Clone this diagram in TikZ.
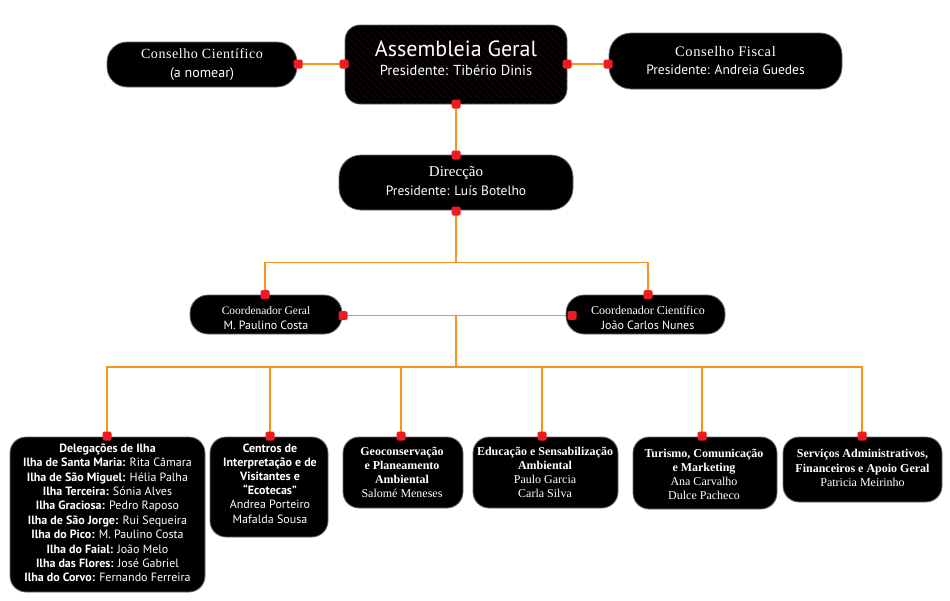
\documentclass[tikz,border=0pt]{standalone}
\usepackage{fontspec}
\setmainfont{Liberation Serif}
\newfontfamily\sansf{PT Sans}
\newfontfamily\serifls[LetterSpace=4]{Liberation Serif}
\usetikzlibrary{backgrounds}
\definecolor{orng}{HTML}{F7941D}
\definecolor{redsq}{HTML}{ED1C24}
\definecolor{bord}{HTML}{6D6E70}
\definecolor{hatchc}{HTML}{240808}
\tikzset{
  box/.style={fill=black,draw=bord,line width=0.8pt,inner sep=0pt,rounded corners=#1},
  box/.default=15pt,
  sq/.style={fill=redsq,rounded corners=1.5pt,minimum size=9pt,inner sep=0pt},
  conn/.style={draw=orng,line width=1.3pt},
  txt/.style={text=white,align=center,inner sep=0pt},
}
\begin{document}
\begin{tikzpicture}[x=1pt,y=-1pt]
\useasboundingbox (0,0) rectangle (950,600);
% ---------- boxes ----------
\node[box=20pt,minimum width=190pt,minimum height=45pt] (cc) at (202,64.5) {};
\node[box=15pt,minimum width=222pt,minimum height=79pt] (ag) at (456,64.5) {};
\begin{scope}
  \clip[rounded corners=15pt] (345,25) rectangle (567,104);
  \foreach \i in {-100,-93,...,240} \draw[hatchc,line width=0.45pt] (345+\i,25) -- ++(80,80);
\end{scope}
\node[box=22pt,minimum width=233pt,minimum height=56pt] (cf) at (725.5,61) {};
\node[box=22pt,minimum width=234pt,minimum height=55pt] (dir) at (456,182.5) {};
\node[box=18pt,minimum width=152pt,minimum height=39pt] (cg) at (266,314.5) {};
\node[box=18pt,minimum width=159pt,minimum height=39pt] (cci) at (645.5,314.5) {};
\node[box=16pt,minimum width=195pt,minimum height=155pt] (del) at (107.5,514.5) {};
\node[box=16pt,minimum width=118pt,minimum height=100pt] (cen) at (269,487) {};
\node[box=16pt,minimum width=120pt,minimum height=71pt] (geo) at (403,472.5) {};
\node[box=16pt,minimum width=145pt,minimum height=71pt] (edu) at (545.5,472.5) {};
\node[box=16pt,minimum width=144pt,minimum height=72pt] (tur) at (705,473) {};
\node[box=16pt,minimum width=159pt,minimum height=65pt] (ser) at (862.5,469.5) {};
% ---------- texts ----------
\node[txt,anchor=base,font=\serifls\fontsize{14}{18}\selectfont] (cct1) at (202,58.5) {Conselho Científico};
\node[txt,anchor=base,font=\sansf\fontsize{14}{18}\selectfont] (cct2) at (202,77) {(a nomear)};
\node[txt,anchor=base,font=\sansf\fontsize{22}{26}\selectfont] (agt1) at (456,56.7) {Assembleia Geral};
\node[txt,anchor=base,font=\sansf\fontsize{14.5}{18}\selectfont] (agt2) at (456,75) {Presidente: Tibério Dinis};
\node[txt,anchor=base,font=\serifls\fontsize{14.5}{18}\selectfont] (cft1) at (725.5,56.5) {Conselho Fiscal};
\node[txt,anchor=base,font=\sansf\fontsize{13.5}{18}\selectfont] (cft2) at (725.5,74) {Presidente: Andreia Guedes};
\node[txt,anchor=base,font=\fontsize{15}{18}\selectfont] (dirt1) at (456,176.7) {Direcção};
\node[txt,anchor=base,font=\sansf\fontsize{13.5}{18}\selectfont] (dirt2) at (456,195) {Presidente: Luís Botelho};
\node[txt,anchor=base,font=\fontsize{11.5}{14}\selectfont] (cgt1) at (266,314.3) {Coordenador Geral};
\node[txt,anchor=base,font=\sansf\fontsize{12}{14}\selectfont] (cgt2) at (266,329) {M. Paulino Costa};
\node[txt,anchor=base,font=\fontsize{12}{14}\selectfont] (ccit1) at (648,314.3) {Coordenador Científico};
\node[txt,anchor=base,font=\sansf\fontsize{12}{14}\selectfont] (ccit2) at (648,329) {João Carlos Nunes};
\node[txt,anchor=north,font=\sansf\fontsize{12}{14.4}\selectfont] (delt) at (107.5,443.4) {%
{\bfseries Delegações de Ilha}\\
{\bfseries Ilha de Santa Maria:} Rita Câmara\\
{\bfseries Ilha de São Miguel:} Hélia Palha\\
{\bfseries Ilha Terceira:} Sónia Alves\\
{\bfseries Ilha Graciosa:} Pedro Raposo\\
{\bfseries Ilha de São Jorge:} Rui Sequeira\\
{\bfseries Ilha do Pico:} M. Paulino Costa\\
{\bfseries Ilha do Faial:} João Melo\\
{\bfseries Ilha das Flores:} José Gabriel\\
{\bfseries Ilha do Corvo:} Fernando Ferreira};
\node[txt,anchor=north,font=\sansf\fontsize{12}{14.2}\selectfont] (cent) at (270,443.4) {%
{\bfseries Centros de}\\
{\bfseries Interpretação e de}\\
{\bfseries Visitantes e}\\
{\bfseries “Ecotecas”}\\
Andrea Porteiro\\
Mafalda Sousa};
\node[txt,anchor=north,font=\fontsize{12}{14}\selectfont] (geot) at (402,446.7) {%
{\bfseries Geoconservação}\\
{\bfseries e Planeamento}\\
{\bfseries Ambiental}\\
Salomé Meneses};
\node[txt,anchor=north,font=\fontsize{12}{14}\selectfont] (edut) at (545,446.7) {%
{\bfseries Educação e Sensabilização}\\
{\bfseries Ambiental}\\
Paulo Garcia\\
Carla Silva};
\node[txt,anchor=north,font=\fontsize{12}{14.1}\selectfont] (turt) at (704,448.7) {%
{\bfseries Turismo, Comunicação}\\
{\bfseries e Marketing}\\
Ana Carvalho\\
Dulce Pacheco};
\node[txt,anchor=north,font=\fontsize{12}{14.2}\selectfont] (sert) at (862.5,449.3) {%
{\bfseries Serviços Administrativos,}\\
{\bfseries Financeiros e Apoio Geral}\\
Patricia Meirinho};
% ---------- connector squares ----------
\node[sq] (pccR) at (298,64) {};
\node[sq] (pagL) at (344,64) {};
\node[sq] (pagR) at (567,64) {};
\node[sq] (pcfL) at (608,64) {};
\node[sq] (pagB) at (456,104) {};
\node[sq] (pdirT) at (456,155) {};
\node[sq] (pdirB) at (456,211) {};
\node[sq] (pcgT) at (265,294.7) {};
\node[sq] (pcciT) at (648,294.7) {};
\node[sq] (pcgR) at (343,315.5) {};
\node[sq] (pcciL) at (572,315.5) {};
\node[sq] (pdelT) at (107,436) {};
\node[sq] (pcenT) at (270,436) {};
\node[sq] (pgeoT) at (401,436) {};
\node[sq] (peduT) at (542,436) {};
\node[sq] (pturT) at (702,436) {};
\node[sq] (pserT) at (862,436) {};
\coordinate (j1) at (456,262.7);
\coordinate (j2) at (456,315.5);
\coordinate (j3) at (456,367);
% ---------- connectors ----------
\begin{scope}[on background layer]
\draw[conn] (pccR.center) -- (pagL.center);
\draw[conn] (pagR.center) -- (pcfL.center);
\draw[conn] (pagB.center) -- (pdirT.center);
\draw[conn] (pdirB.center) -- (j1);
\draw[conn] (pcgT.center) |- (j1) -| (pcciT.center);
\draw[conn] (pcgR.center) -- (pcciL.center);
\draw[conn] (j2) -- (j3);
\draw[conn] (pdelT.center) |- (j3) -| (pserT.center);
\draw[conn] (pcenT.center) -- (pcenT.center |- j3);
\draw[conn] (pgeoT.center) -- (pgeoT.center |- j3);
\draw[conn] (peduT.center) -- (peduT.center |- j3);
\draw[conn] (pturT.center) -- (pturT.center |- j3);
\end{scope}
\end{tikzpicture}
\end{document}
